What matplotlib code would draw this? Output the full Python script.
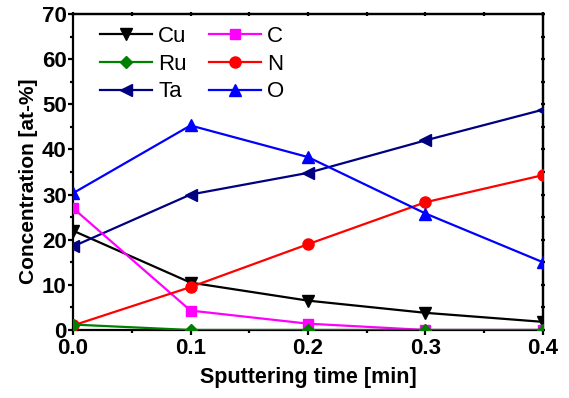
import matplotlib
matplotlib.use("Agg")
import matplotlib.pyplot as plt
from matplotlib.ticker import MultipleLocator, NullFormatter, FuncFormatter

plt.rcParams['font.family'] = ['Liberation Sans', 'DejaVu Sans']

time = [0.0, 0.1, 0.2, 0.3, 0.4]
cu = [22.0, 10.5, 6.5, 3.8, 1.8]
ru = [1.2, 0.0, 0.0, 0.0, 0.0]
ta = [18.5, 30.0, 34.8, 42.0, 48.8]
c = [27.0, 4.3, 1.4, 0.0, 0.0]
n = [1.0, 9.5, 19.0, 28.3, 34.3]
o = [30.3, 45.3, 38.3, 25.8, 15.0]

fig = plt.figure(figsize=(5.69, 3.98), dpi=100)
ax = fig.add_axes([0.1283, 0.1709, 0.826, 0.794])

ms = 8
lw = 1.6
ax.plot(time, cu, color='black', marker='v', ms=ms, lw=lw, label='Cu', zorder=3)
ax.plot(time, ru, color='#008000', marker='D', ms=6.5, lw=lw, label='Ru', zorder=5)
ax.plot(time, ta, color='#000080', marker='<', ms=ms, lw=lw, label='Ta', zorder=3)
ax.plot(time, c, color='#ff00ff', marker='s', ms=7, lw=lw, label='C', zorder=3)
ax.plot(time, n, color='#ff0000', marker='o', ms=ms, lw=lw, label='N', zorder=3)
ax.plot(time, o, color='#0000ff', marker='^', ms=ms, lw=lw, label='O', zorder=3)

ax.set_xlim(0, 0.4)
ax.set_ylim(0, 70)
ax.xaxis.set_major_locator(MultipleLocator(0.1))
ax.xaxis.set_minor_locator(MultipleLocator(0.05))
ax.yaxis.set_major_locator(MultipleLocator(10))
ax.yaxis.set_minor_locator(MultipleLocator(5))
ax.xaxis.set_major_formatter(FuncFormatter(lambda v, p: f"{v:.1f}"))
ax.yaxis.set_major_formatter(FuncFormatter(lambda v, p: f"{v:.0f}"))

for s in ax.spines.values():
    s.set_linewidth(1.6)

ax.tick_params(axis='both', which='major', direction='out', length=3.5, width=1.6,
               labelsize=16, pad=1)
ax.tick_params(axis='x', which='major', pad=2.2)
ax.tick_params(axis='both', which='minor', direction='out', length=2.2, width=1.6)
for lab in ax.get_xticklabels() + ax.get_yticklabels():
    lab.set_fontweight('bold')

# ticks on top and right spines (crossing the spine)
secx = ax.secondary_xaxis('top')
secx.xaxis.set_major_locator(MultipleLocator(0.1))
secx.xaxis.set_minor_locator(MultipleLocator(0.05))
secx.xaxis.set_major_formatter(NullFormatter())
secx.tick_params(which='both', direction='inout', length=3.5, width=1.6)
secx.spines['top'].set_linewidth(1.6)
secy = ax.secondary_yaxis('right')
secy.yaxis.set_major_locator(MultipleLocator(10))
secy.yaxis.set_minor_locator(MultipleLocator(5))
secy.yaxis.set_major_formatter(NullFormatter())
secy.tick_params(which='both', direction='inout', length=3.5, width=1.6)
secy.spines['right'].set_linewidth(1.6)

ax.set_xlabel('Sputtering time [min]', fontsize=15.5, fontweight='bold', labelpad=6)
ax.set_ylabel('Concentration [at-%]', fontsize=15, fontweight='bold')
ax.yaxis.set_label_coords(-0.074, 0.47)

ax.legend(ncol=2, frameon=False, loc='upper left', fontsize=16,
          handlelength=2.35, columnspacing=1.0, labelspacing=0.3,
          handletextpad=0.27, borderaxespad=0.0, borderpad=0.0,
          bbox_to_anchor=(0.057, 0.962))

fig.savefig('out.png', dpi=100)
